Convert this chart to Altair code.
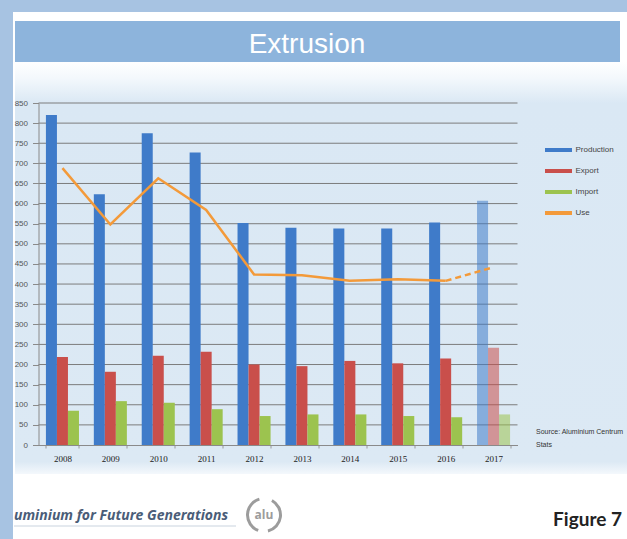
import altair as alt
import pandas as pd

# ---- data -------------------------------------------------------------
years = ["2008", "2009", "2010", "2011", "2012", "2013", "2014", "2015", "2016", "2017"]
production = [820, 623, 775, 727, 552, 540, 538, 538, 553, 607]
export = [219, 182, 222, 232, 200, 196, 209, 203, 215, 242]
imports = [85, 109, 105, 89, 72, 76, 76, 72, 69, 76]
use = [688, 548, 663, 584, 424, 422, 408, 412, 408, 442]
forecast_year = "2017"

series = ["Production", "Export", "Import", "Use"]
series_colors = ["#3f7bc9", "#c94f4b", "#9cc34f", "#f39a3a"]
y_ticks = list(range(0, 851, 50))

page_title = "Extrusion"
source_lines = ["Source: Aluminium Centrum", "Stats"]
footer_text = "uminium for Future Generations"
logo_text = "alu"
figure_label = "Figure 7"

# ---- geometry of the plot area inside the 627x539 page ----------------
W, H = 479, 342
OX, OY = 38.5, 103
PAGE_W, PAGE_H = 627, 539

bars_df = pd.DataFrame(
    [{"year": y, "series": s, "value": v}
     for s, vals in zip(series[:3], [production, export, imports])
     for y, v in zip(years, vals)]
)
use_df = pd.DataFrame({"year": years, "use": use})
one = pd.DataFrame({"k": [0]})


def box(x0, y0, x1, y1, fill):
    return alt.Chart(one).mark_rect(fill=fill).encode(
        x=alt.value(x0 - OX), x2=alt.value(x1 - OX),
        y=alt.value(y0 - OY), y2=alt.value(y1 - OY),
    )


def label(txt, x, y, **kw):
    return alt.Chart(pd.DataFrame({"t": [txt]})).mark_text(**kw).encode(
        x=alt.value(x - OX), y=alt.value(y - OY), text="t:N"
    )


x_enc = alt.X(
    "year:O", sort=years,
    scale=alt.Scale(paddingInner=0.31, paddingOuter=0.155),
    axis=alt.Axis(
        title=None, labelAngle=0, labelFont="Liberation Serif", labelFontSize=9,
        labelColor="#222", labelPadding=6, domainColor="#8a8a8a",
        tickBand="extent", tickSize=3, tickColor="#9a9a9a", zindex=1,
    ),
)
y_scale = alt.Scale(domain=[0, 850], nice=False)
y_axis = alt.Axis(
    title=None, values=y_ticks, grid=False, labelFont="Liberation Sans",
    labelFontSize=8, labelColor="#555", tickSize=6, tickColor="#8a8a8a",
    domainColor="#8a8a8a", labelPadding=5, zindex=1,
)

# ---- page background ------------------------------------------------------
panel = box(13, 12, 640, 560, "#ffffff")
banner = box(15, 21, 620, 62, "#8db4dc")
chart_bg = alt.Chart(one).mark_rect(
    fill=alt.LinearGradient(
        gradient="linear",
        stops=[
            alt.GradientStop(color="#ffffff", offset=0),
            alt.GradientStop(color="#f3f8fc", offset=0.04),
            alt.GradientStop(color="#dae8f4", offset=0.1),
            alt.GradientStop(color="#dce9f4", offset=0.97),
            alt.GradientStop(color="#f4f8fc", offset=1),
        ],
        x1=0, x2=0, y1=0, y2=1,
    )
).encode(
    x=alt.value(15 - OX), x2=alt.value(PAGE_W + 5 - OX),
    y=alt.value(62 - OY), y2=alt.value(474 - OY),
)

# ---- gridlines (drawn behind the bars), carrying the value axis ----------
grid = alt.Chart(pd.DataFrame({"value": y_ticks[1:]})).mark_rule(
    color="#7c7c7c", strokeWidth=1
).encode(
    y=alt.Y("value:Q", scale=y_scale, axis=y_axis),
    x=alt.value(0), x2=alt.value(W),
)

# ---- bars ---------------------------------------------------------------
bars = alt.Chart(bars_df).mark_bar().encode(
    x=x_enc,
    xOffset=alt.XOffset("series:N", sort=series[:3]),
    y=alt.Y("value:Q", scale=y_scale, axis=y_axis),
    color=alt.Color(
        "series:N",
        scale=alt.Scale(domain=series, range=series_colors),
        legend=alt.Legend(
            orient="none", legendX=513, legendY=40, title=None,
            symbolType="M-2,-0.3H2V0.3H-2Z", symbolSize=182, symbolStrokeWidth=0,
            rowPadding=10, labelOffset=10, labelFont="Liberation Sans",
            labelFontSize=8, labelColor="#444", padding=0,
        ),
    ),
    opacity=alt.condition(
        alt.datum.year == forecast_year, alt.value(0.55), alt.value(1.0)
    ),
)

# ---- consumption line: solid for actuals, dashed into the forecast -------
line_solid = alt.Chart(use_df[use_df.year != forecast_year]).mark_line(
    color=series_colors[3], strokeWidth=2.5
).encode(x=alt.X("year:O", sort=years), y=alt.Y("use:Q", scale=y_scale, axis=y_axis))

line_dash = alt.Chart(use_df[use_df.year.isin(["2016", forecast_year])]).mark_line(
    color=series_colors[3], strokeWidth=2.5, strokeDash=[6, 4]
).encode(x=alt.X("year:O", sort=years), y=alt.Y("use:Q", scale=y_scale, axis=y_axis))

# ---- texts ------------------------------------------------------------------
title = label(page_title, 307, 45, font="Liberation Sans", fontSize=28,
              color="#ffffff", align="center", baseline="middle")
src1 = label(source_lines[0], 536, 432, font="Liberation Sans", fontSize=7,
             color="#333", align="left", baseline="middle")
src2 = label(source_lines[1], 536, 445, font="Liberation Sans", fontSize=7,
             color="#333", align="left", baseline="middle")
footer = label(footer_text, 14, 516, font="Open Sans", fontSize=14,
               fontStyle="italic", fontWeight="bold", color="#4a5d78",
               align="left", baseline="middle")
footer_rule = alt.Chart(one).mark_rule(color="#c9d3de", strokeWidth=1).encode(
    x=alt.value(14 - OX), x2=alt.value(236 - OX),
    y=alt.value(526 - OY),
)
fig = label(figure_label, 622, 520, font="Lato", fontSize=19, fontWeight="bold",
            color="#222", align="right", baseline="middle")

# small recycling-style logo
logo_arc1 = alt.Chart(one).mark_arc(
    radius=18, radius2=15, theta=0.5, theta2=2.9, color="#9c9c9c"
).encode(x=alt.value(264 - OX), y=alt.value(515 - OY))
logo_arc2 = alt.Chart(one).mark_arc(
    radius=18, radius2=15, theta=3.5, theta2=6.0, color="#9c9c9c"
).encode(x=alt.value(264 - OX), y=alt.value(515 - OY))
logo_txt = label(logo_text, 264, 515, font="Open Sans", fontSize=12,
                 fontWeight="bold", color="#9c9c9c", align="center",
                 baseline="middle")

chart = alt.layer(
    panel, banner, chart_bg, grid, bars, line_solid, line_dash,
    title, src1, src2, footer, footer_rule, fig, logo_arc1, logo_arc2, logo_txt,
).properties(
    width=W, height=H,
    padding={"left": OX, "top": OY, "right": PAGE_W - OX - W,
             "bottom": PAGE_H - OY - H},
    autosize=alt.AutoSizeParams(type="none"),
    background="#a7c3e2",
).configure_view(stroke=None)

chart.save("out.html", embed_options={"renderer": "svg", "actions": False})
